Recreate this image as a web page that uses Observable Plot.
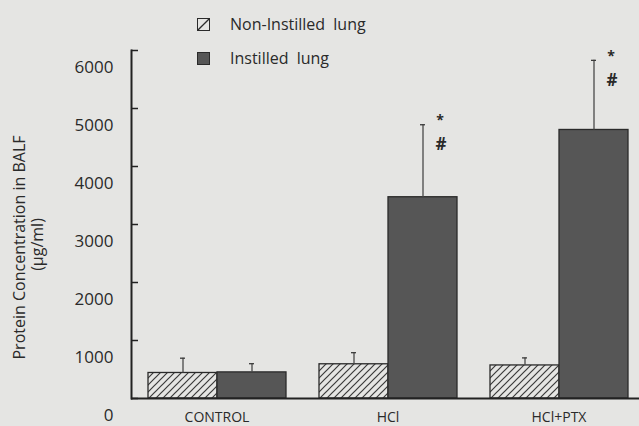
<!DOCTYPE html>
<html>
<head>
<meta charset="utf-8">
<script src="https://cdn.jsdelivr.net/npm/d3@7"></script>
<script src="https://cdn.jsdelivr.net/npm/@observablehq/plot@0.6"></script>
<style>
  html, body { margin: 0; padding: 0; background: #e5e5e3; }
  #wrap { position: relative; width: 639px; height: 426px; overflow: hidden; }
  #legend { position: absolute; left: 197px; top: 17px; font-family: "Open Sans", sans-serif; font-size: 16px; color: #2a2a2a; }
  .row { display: flex; align-items: center; height: 14px; margin-bottom: 20px; }
  .sw { width: 13px; height: 13px; box-sizing: border-box; border: 1.3px solid #2a2a2a; margin-right: 20px; }
  .row span { word-spacing: 4px; }
</style>
</head>
<body>
<svg width="0" height="0" style="position:absolute">
  <defs>
    <pattern id="hatch" patternUnits="userSpaceOnUse" width="7" height="7">
      <rect width="7" height="7" fill="#e5e5e3"></rect>
      <path d="M-1,1 l2,-2 M0,7 l7,-7 M6,8 l2,-2" stroke="#3a3a3a" stroke-width="1.2"></path>
    </pattern>
  </defs>
</svg>
<div id="wrap">
  <div id="legend"></div>
</div>
<script>
const groups = ["CONTROL", "HCl", "HCl+PTX"];
const series = ["Non-Instilled lung", "Instilled lung"];
const nonInstilled = [440, 590, 570];
const nonInstilledErr = [255, 200, 130];
const instilled = [450, 3470, 4630];
const instilledErr = [150, 1250, 1200];
const starMarks = ["", "*", "*"];
const hashMarks = ["", "#", "#"];
const yTicks = [0, 1000, 2000, 3000, 4000, 5000, 6000];

const seriesFill = {"Non-Instilled lung": "url(#hatch)", "Instilled lung": "#565656"};

const rows = [];
groups.forEach((g, i) => {
  rows.push({group: g, series: series[0], value: nonInstilled[i], err: nonInstilledErr[i], star: "", hash: ""});
  rows.push({group: g, series: series[1], value: instilled[i], err: instilledErr[i], star: starMarks[i], hash: hashMarks[i]});
});
const annotated = rows.filter(d => d.star || d.hash);

const chart = Plot.plot({
  width: 639,
  height: 426,
  marginLeft: 130,
  marginRight: -5,
  marginTop: 50,
  marginBottom: 28,
  style: {background: "transparent", fontFamily: "Open Sans, sans-serif", color: "#2a2a2a", overflow: "visible"},
  fx: {domain: groups, padding: 0, label: null},
  x: {domain: series, paddingInner: 0, paddingOuter: 0.235, align: 0.53, axis: null},
  y: {domain: [0, 6000]},
  marks: [
    Plot.barY(rows.filter(d => d.series === series[0]), {fx: "group", x: "series", y: "value", fill: seriesFill[series[0]], stroke: "#2a2a2a", strokeWidth: 1.3}),
    Plot.barY(rows.filter(d => d.series === series[1]), {fx: "group", x: "series", y: "value", fill: seriesFill[series[1]], stroke: "#2a2a2a", strokeWidth: 1.3}),
    Plot.ruleX(rows, {fx: "group", x: "series", y1: "value", y2: d => d.value + d.err, stroke: "#4a4a4a", strokeWidth: 1.3}),
    Plot.tickY(rows, {fx: "group", x: "series", y: d => d.value + d.err, stroke: "#3a3a3a", strokeWidth: 1.3, insetLeft: 32, insetRight: 32}),
    Plot.text(annotated, {fx: "group", x: "series", y: d => d.value + d.err, text: "star", dx: 17, dy: -4, fontSize: 14, fontWeight: "bold", fill: "#2a2a2a"}),
    Plot.text(annotated, {fx: "group", x: "series", y: d => d.value + d.err, text: "hash", dx: 18, dy: 20, fontSize: 17, fontWeight: "bold", fill: "#2a2a2a"}),
    Plot.ruleY([0], {stroke: "#222", strokeWidth: 2}),
    Plot.frame({anchor: "left", facetAnchor: "left", stroke: "#222", strokeWidth: 2}),
    Plot.axisY({ticks: yTicks, tickSize: -7, fill: "none", stroke: "#222", strokeWidth: 1.5}),
    Plot.axisY({ticks: yTicks, tickSize: 0, tickPadding: 18, dy: 17, tickFormat: "d", fontSize: 17, label: null, fill: "#2a2a2a"}),
    Plot.axisFx({anchor: "bottom", tickSize: 0, tickPadding: 14, fontSize: 14, label: null, fill: "#2a2a2a"}),
    Plot.text(["Protein Concentration in BALF"], {frameAnchor: "left", textAnchor: "middle", rotate: -90, dx: -112, dy: 23, fontSize: 16, fill: "#2a2a2a", facetAnchor: "left"}),
    Plot.text(["(\u03bcg/ml)"], {frameAnchor: "left", textAnchor: "middle", rotate: -90, dx: -94, dy: 20, fontSize: 16, fill: "#2a2a2a", facetAnchor: "left"})
  ]
});

document.getElementById("wrap").prepend(chart);

const legend = d3.select("#legend");
series.forEach(s => {
  const r = legend.append("div").attr("class", "row");
  r.append("div").attr("class", "sw").style("background", s === series[0] ? "#e5e5e3" : seriesFill[s]);
  r.append("span").text(s);
});
legend.select(".row .sw")
  .html('<svg width="11" height="11" style="display:block"><path d="M0,11 L11,0" stroke="#2a2a2a" stroke-width="1.3"/></svg>');
</script>
</body>
</html>
